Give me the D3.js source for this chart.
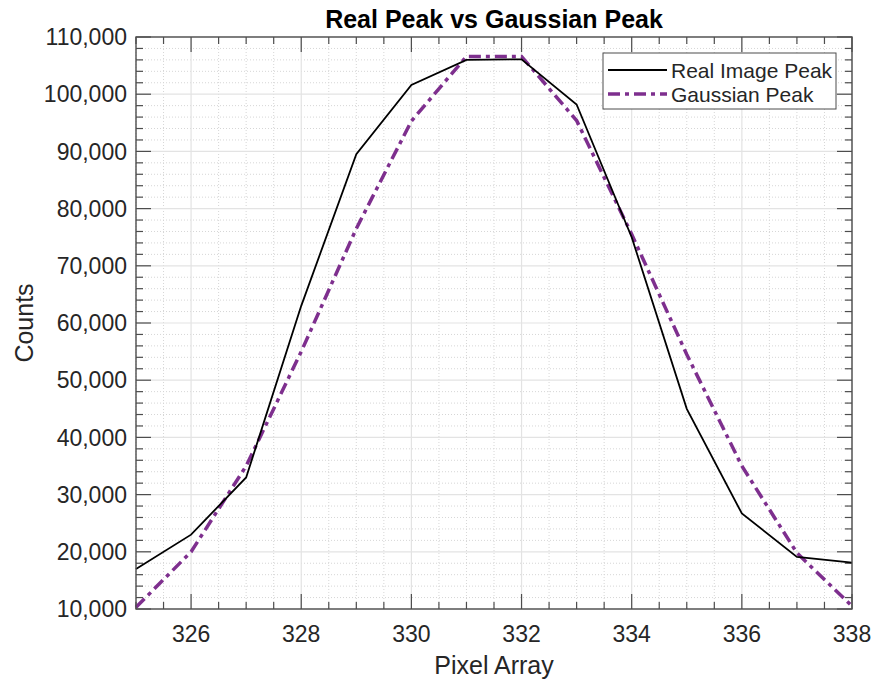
<!DOCTYPE html>
<html>
<head>
<meta charset="utf-8">
<script src="https://cdn.jsdelivr.net/npm/d3@7"></script>
<style>
  body { margin: 0; background: #fff; }
  svg text { font-family: "Liberation Sans", Arial, Helvetica, sans-serif; fill: #262626; }
</style>
</head>
<body>
<svg id="chart" width="875" height="683"></svg>
<script>
// pixel positions (x) and the two peak profiles
const pixels = [325, 326, 327, 328, 329, 330, 331, 332, 333, 334, 335, 336, 337, 338];
const realPeak = [17000, 23000, 33000, 63000, 89500, 101600, 106000, 106100, 98200, 75000, 45000, 26700, 19100, 18100];
const gaussPeak = [10300, 20000, 35000, 55000, 76500, 95300, 106600, 106600, 95400, 75500, 54500, 35000, 19800, 10500];
const seriesNames = ['Real Image Peak', 'Gaussian Peak'];
const xTicks = [326, 328, 330, 332, 334, 336, 338];
const yTicks = [10000, 20000, 30000, 40000, 50000, 60000, 70000, 80000, 90000, 100000, 110000];

const margin = {top: 37, right: 23, bottom: 74, left: 136};
const width = 875 - margin.left - margin.right;
const height = 683 - margin.top - margin.bottom;
const purple = '#7E2F8E';
const axisColor = '#4d4d4d';

const svg = d3.select('#chart');
const g = svg.append('g')
  .attr('transform', 'translate(' + margin.left + ',' + margin.top + ')');

const x = d3.scaleLinear().domain([325, 338]).range([0, width]);
const y = d3.scaleLinear().domain([10000, 110000]).range([height, 0]);

// minor grid (dotted)
const xMinor = d3.range(325, 338.01, 0.5).filter(v => xTicks.indexOf(v) < 0);
const yMinor = d3.range(10000, 110001, 2000).filter(v => yTicks.indexOf(v) < 0);

g.append('g').selectAll('line')
  .data(xMinor).enter().append('line')
  .attr('x1', d => x(d)).attr('x2', d => x(d))
  .attr('y1', 0).attr('y2', height)
  .attr('stroke', '#d6d6d6').attr('stroke-width', 1)
  .attr('stroke-dasharray', '1,2');
g.append('g').selectAll('line')
  .data(yMinor).enter().append('line')
  .attr('x1', 0).attr('x2', width)
  .attr('y1', d => y(d)).attr('y2', d => y(d))
  .attr('stroke', '#d6d6d6').attr('stroke-width', 1)
  .attr('stroke-dasharray', '1,2');

// major grid (solid)
g.append('g').selectAll('line')
  .data(xTicks).enter().append('line')
  .attr('x1', d => x(d)).attr('x2', d => x(d))
  .attr('y1', 0).attr('y2', height)
  .attr('stroke', '#e3e3e3').attr('stroke-width', 1.2);
g.append('g').selectAll('line')
  .data(yTicks).enter().append('line')
  .attr('x1', 0).attr('x2', width)
  .attr('y1', d => y(d)).attr('y2', d => y(d))
  .attr('stroke', '#e3e3e3').attr('stroke-width', 1.2);

// ticks on all four sides, pointing inward
function addTicks(vals, len, horiz) {
  vals.forEach(v => {
    if (horiz) {
      g.append('line').attr('x1', x(v)).attr('x2', x(v)).attr('y1', height).attr('y2', height - len)
        .attr('stroke', axisColor).attr('stroke-width', 1.2);
      g.append('line').attr('x1', x(v)).attr('x2', x(v)).attr('y1', 0).attr('y2', len)
        .attr('stroke', axisColor).attr('stroke-width', 1.2);
    } else {
      g.append('line').attr('x1', 0).attr('x2', len).attr('y1', y(v)).attr('y2', y(v))
        .attr('stroke', axisColor).attr('stroke-width', 1.2);
      g.append('line').attr('x1', width).attr('x2', width - len).attr('y1', y(v)).attr('y2', y(v))
        .attr('stroke', axisColor).attr('stroke-width', 1.2);
    }
  });
}
addTicks(xMinor, 7, true);
addTicks(xTicks, 15, true);
addTicks(yMinor, 7, false);
addTicks(yTicks, 15, false);

// tick labels
g.append('g').selectAll('text')
  .data(xTicks).enter().append('text')
  .attr('x', d => x(d)).attr('y', height + 33)
  .attr('text-anchor', 'middle')
  .style('font-size', '23px')
  .text(d => d);

const fmt = d3.format(',');
g.append('g').selectAll('text')
  .data(yTicks).enter().append('text')
  .attr('x', -9).attr('y', d => y(d))
  .attr('dy', '0.36em')
  .attr('text-anchor', 'end')
  .style('font-size', '23px')
  .text(d => fmt(d));

// lines
const line = d3.line()
  .x((d, i) => x(pixels[i]))
  .y(d => y(d));

g.append('path')
  .datum(gaussPeak)
  .attr('d', line)
  .attr('fill', 'none')
  .attr('stroke', purple)
  .attr('stroke-width', 3.5)
  .attr('stroke-dasharray', '12,5,4,5');

g.append('path')
  .datum(realPeak)
  .attr('d', line)
  .attr('fill', 'none')
  .attr('stroke', '#000')
  .attr('stroke-width', 1.8);

// axes box
g.append('rect')
  .attr('x', 0).attr('y', 0)
  .attr('width', width).attr('height', height)
  .attr('fill', 'none')
  .attr('stroke', axisColor)
  .attr('stroke-width', 1.4);

// title and axis labels
svg.append('text')
  .attr('x', margin.left + width / 2).attr('y', 28)
  .attr('text-anchor', 'middle')
  .style('font-size', '25px').style('font-weight', 'bold')
  .style('fill', '#000')
  .text('Real Peak vs Gaussian Peak');

svg.append('text')
  .attr('x', margin.left + width / 2).attr('y', 674)
  .attr('text-anchor', 'middle')
  .style('font-size', '25px')
  .text('Pixel Array');

svg.append('text')
  .attr('transform', 'translate(33,' + (margin.top + height / 2) + ') rotate(-90)')
  .attr('text-anchor', 'middle')
  .style('font-size', '25px')
  .text('Counts');

// legend
const legend = svg.append('g').attr('transform', 'translate(603,53)');
legend.append('rect')
  .attr('width', 233).attr('height', 56)
  .attr('fill', '#fff')
  .attr('stroke', axisColor).attr('stroke-width', 1);

const legendStyles = [
  {stroke: '#000', w: 1.8, dash: null},
  {stroke: purple, w: 3.5, dash: '12,5,4,5'}
];
seriesNames.forEach((name, i) => {
  const cy = 17 + i * 24;
  legend.append('line')
    .attr('x1', 5).attr('x2', 64)
    .attr('y1', cy).attr('y2', cy)
    .attr('stroke', legendStyles[i].stroke)
    .attr('stroke-width', legendStyles[i].w)
    .attr('stroke-dasharray', legendStyles[i].dash);
  legend.append('text')
    .attr('x', 68).attr('y', cy)
    .attr('dy', '0.36em')
    .style('font-size', '21px')
    .text(name);
});
</script>
</body>
</html>
